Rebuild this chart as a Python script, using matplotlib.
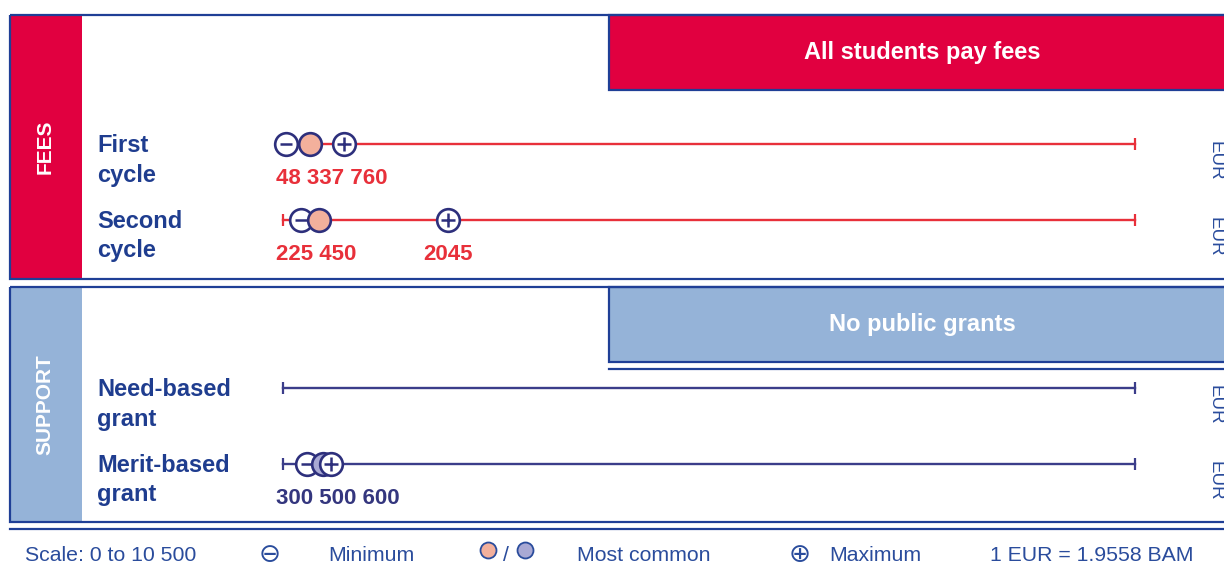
import matplotlib
matplotlib.use("Agg")
import matplotlib.pyplot as plt
from matplotlib.patches import Rectangle

# rows of the chart, amounts in EUR (None = no amount)
row_labels = ["First\ncycle", "Second\ncycle", "Need-based\ngrant", "Merit-based\ngrant"]
row_section = [0, 0, 1, 1]
minimum = [48, 225, None, 300]
most_common = [337, 450, None, 500]
maximum = [760, 2045, None, 600]
scale_max = 10500

section_titles = ["FEES", "SUPPORT"]
section_notes = ["All students pay fees", "No public grants"]
legend_scale = "Scale: 0 to 10 500"
legend_labels = ["Minimum", "Most common", "Maximum"]
legend_rate = "1 EUR = 1.9558 BAM"

NAVY = "#1f3f96"
TEXT_BLUE = "#1f3d8f"
LEG_BLUE = "#2a4c9c"
MARK_EDGE = "#2d2f7c"
side_col = ["#e10040", "#95b3d8"]
line_col = ["#e8303a", "#3b3d8a"]
common_col = ["#f3b09c", "#a9a9d4"]
value_col = ["#e8303a", "#34367e"]

plt.rcParams["font.family"] = ["Liberation Sans", "DejaVu Sans"]

W, H = 1224, 572
fig = plt.figure(figsize=(W / 100, H / 100), dpi=100)

# background layer in pixel units
bg = fig.add_axes([0, 0, 1, 1])
bg.set_xlim(0, W)
bg.set_ylim(H, 0)
bg.axis("off")

panel_top = [15, 287]
panel_h = [264, 235]
for i in range(2):
    top, h = panel_top[i], panel_h[i]
    bg.add_patch(Rectangle((10, top), 72, h, fc=side_col[i], ec="none", zorder=1))
    bg.add_patch(Rectangle((609, top), 660, 75, fc=side_col[i], ec=NAVY, lw=1.6, zorder=2))
    bg.add_patch(Rectangle((10, top), 1260, h, fc="none", ec=NAVY, lw=1.6, zorder=3))
    bg.text(45, top + h / 2, section_titles[i], rotation=90, color="white",
            fontsize=15, fontweight="bold", ha="center", va="center", zorder=4)
    bg.text(922, top + 38, section_notes[i], color="white", fontsize=17,
            fontweight="bold", ha="center", va="center", zorder=4)

bg.plot([609, W], [369, 369], color=NAVY, lw=1.6)
bg.plot([10, W], [529, 529], color=NAVY, lw=1.6)

# data layer: x in EUR
x0px, x1px = 282.5, 1134.5
s = (x1px - x0px) / scale_max
ax = fig.add_axes([0, 0, 1, 1])
ax.patch.set_alpha(0)
ax.set_xlim(-x0px / s, (W - x0px) / s)
ax.set_ylim(H, 0)
ax.axis("off")

row_y = [144, 219.5, 388, 463.5]
for r, label in enumerate(row_labels):
    y = row_y[r]
    sec = row_section[r]
    for k, line in enumerate(label.split("\n")):
        bg.text(97, y + 8 + k * 30, line, color=TEXT_BLUE, fontsize=17,
                fontweight="bold", va="baseline", ha="left")
    bg.text(1215, y + 17, "EUR", rotation=270, color=LEG_BLUE, fontsize=13.5,
            ha="center", va="center")

    # range line with end ticks
    ax.plot([0, scale_max], [y, y], color=line_col[sec], lw=1.7, zorder=2)
    ax.plot([0, scale_max], [y, y], ls="none", marker="|", ms=8.5, mew=1.6,
            color=line_col[sec], zorder=2)

    if minimum[r] is None:
        continue
    ax.plot(minimum[r], y, "o", ms=16.3, mfc="white", mec=MARK_EDGE, mew=1.9, zorder=3)
    ax.plot(minimum[r], y, "_", ms=9, mew=1.8, color=MARK_EDGE, zorder=3.1)
    ax.plot(most_common[r], y, "o", ms=16.3, mfc=common_col[sec], mec=MARK_EDGE,
            mew=1.9, zorder=4)
    ax.plot(maximum[r], y, "o", ms=16.3, mfc="white", mec=MARK_EDGE, mew=1.9, zorder=5)
    ax.plot(maximum[r], y, "+", ms=10, mew=1.8, color=MARK_EDGE, zorder=5.1)

    # value labels: close values share one label, lone values sit under their marker
    vals = [minimum[r], most_common[r], maximum[r]]
    groups = [[vals[0]]]
    for v in vals[1:]:
        if v - groups[-1][-1] < 800:
            groups[-1].append(v)
        else:
            groups.append([v])
    for g in groups:
        txt = " ".join(str(v) for v in g)
        if len(g) > 1:
            ax.annotate(txt, (0, y + 40), xytext=(-5, 0), textcoords="offset points",
                        ha="left", va="baseline", color=value_col[sec],
                        fontsize=16, fontweight="bold")
        else:
            ax.text(g[0], y + 40, txt, ha="center", va="baseline",
                    color=value_col[sec], fontsize=16, fontweight="bold")

# legend strip
ly = 561
fs = 15.3
bg.text(25, ly, legend_scale, color=LEG_BLUE, fontsize=fs, va="baseline")
bg.text(270, ly + 1, "\u2296", color=LEG_BLUE, fontsize=19, family="DejaVu Sans",
        ha="center", va="baseline")
bg.text(328, ly, legend_labels[0], color=LEG_BLUE, fontsize=fs, va="baseline")
bg.plot([488], [550], "o", ms=11.5, mfc=common_col[0], mec=LEG_BLUE, mew=1.3)
bg.text(506, ly, "/", color=LEG_BLUE, fontsize=fs, ha="center", va="baseline")
bg.plot([525], [550], "o", ms=11.5, mfc=common_col[1], mec=LEG_BLUE, mew=1.3)
bg.text(577, ly, legend_labels[1], color=LEG_BLUE, fontsize=fs, va="baseline")
bg.text(800, ly + 1, "\u2295", color=LEG_BLUE, fontsize=19, family="DejaVu Sans",
        ha="center", va="baseline")
bg.text(829, ly, legend_labels[2], color=LEG_BLUE, fontsize=fs, va="baseline")
bg.text(990, ly, legend_rate, color=LEG_BLUE, fontsize=fs, va="baseline")

fig.savefig("out.png", dpi=100)
